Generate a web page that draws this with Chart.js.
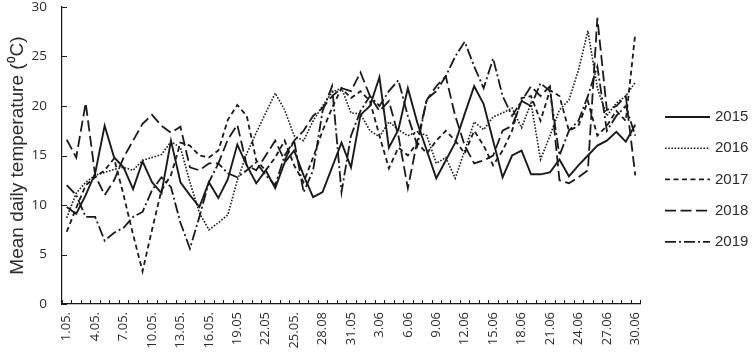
<!DOCTYPE html>
<html>
<head>
<meta charset="utf-8">
<script src="https://cdn.jsdelivr.net/npm/chart.js@4.4.0/dist/chart.umd.min.js"></script>
<style>
html, body { margin: 0; padding: 0; background: #fff; }
</style>
</head>
<body>
<canvas id="chart" width="752" height="354"></canvas>
<script>
// days 1.05. .. 30.06 (labels as printed on the original axis)
var days = [
  '1.05.', '2.05.', '3.05.', '4.05.', '5.05.', '6.05.', '7.05.', '8.05.', '9.05.', '10.05.',
  '11.05.', '12.05.', '13.05.', '14.05.', '15.05.', '16.05.', '17.05.', '18.05.', '19.05', '20.05',
  '21.05', '22.05', '23.05', '24.05', '25.05.', '26.05', '27.05', '28.08', '29.05', '30.05',
  '31.05', '1.06', '2.06', '3.06', '4.06', '5.06', '6.06', '7.06', '8.06', '9.06',
  '10.06', '11.06', '12.06', '13.06', '14.06', '15.06', '16.06', '17.06', '18.06', '19.06',
  '20.06', '21.06', '22.06', '23.06', '24.06', '25.06', '26.06', '27.06', '28.06', '29.06',
  '30.06'
];
var labelEvery = 3;   // only every third day is written under the axis

var years = ['2015', '2016', '2017', '2018', '2019'];

var t2015 = [9.8, 9.1, 11.0, 13.2, 18.0, 14.8, 13.8, 11.6, 14.4, 12.3,
  11.2, 16.5, 12.3, 11.0, 9.8, 12.3, 10.7, 12.6, 16.1, 14.0,
  12.2, 13.5, 11.7, 14.3, 15.5, 13.0, 10.8, 11.3, 13.8, 16.3,
  13.8, 19.1, 20.0, 22.9, 15.8, 17.6, 21.8, 18.3, 15.5, 12.7,
  14.5, 16.3, 19.2, 22.0, 20.2, 16.5, 12.8, 15.0, 15.5, 13.1,
  13.1, 13.3, 14.6, 12.9, 14.0, 15.0, 16.0, 16.5, 17.4, 16.4,
  18.1];
var t2016 = [8.7, 11.2, 12.3, 13.0, 13.3, 13.6, 13.8, 13.5, 14.5, 14.8,
  15.1, 16.4, 15.8, 12.3, 9.2, 7.5, 8.2, 9.0, 12.5, 15.2,
  17.3, 19.3, 21.3, 19.6, 17.0, 16.5, 18.5, 20.0, 21.4, 21.8,
  19.3, 19.2, 17.5, 16.9, 18.4, 17.6, 17.0, 17.4, 17.0, 14.2,
  14.8, 12.7, 15.5, 18.4, 17.6, 18.9, 19.3, 19.8, 17.8, 20.3,
  14.6, 17.0, 19.6, 20.6, 23.6, 27.6, 21.8, 19.0, 20.3, 21.0,
  22.4];
var t2017 = [7.3, 9.7, 12.0, 12.8, 13.5, 14.7, 11.0, 7.0, 3.3, 7.5,
  11.5, 13.0, 16.3, 16.0, 15.0, 14.8, 15.5, 18.6, 20.1, 19.0,
  14.5, 13.5, 14.8, 16.5, 14.0, 12.3, 14.8, 17.5, 19.8, 21.8,
  20.8, 21.5, 20.5, 17.0, 13.7, 15.8, 15.0, 16.3, 15.2, 16.5,
  17.5, 16.5, 15.2, 17.5, 16.0, 14.0, 15.5, 17.5, 20.8, 21.0,
  18.5, 21.6, 21.0, 17.5, 18.0, 20.5, 17.0, 18.0, 19.5, 18.5,
  27.3];
var t2018 = [16.6, 14.8, 20.3, 13.0, 11.0, 12.5, 14.8, 16.5, 18.2, 19.1,
  18.0, 17.3, 17.9, 13.8, 13.5, 14.2, 14.2, 16.6, 18.1, 14.0,
  13.5, 15.0, 16.5, 14.5, 16.5, 17.5, 19.0, 19.8, 21.0, 21.8,
  21.5, 23.4, 21.0, 19.5, 20.5, 17.0, 11.7, 16.5, 20.6, 22.0,
  23.0, 19.0, 16.0, 14.2, 14.5, 15.0, 17.5, 18.0, 20.5, 22.0,
  21.0, 22.0, 12.5, 12.2, 12.8, 13.5, 28.9, 19.6, 20.0, 21.0,
  13.0];
var t2019 = [12.0, 11.0, 8.8, 8.8, 6.4, 7.2, 7.7, 8.8, 9.3, 11.5,
  12.8, 11.8, 8.2, 5.6, 8.8, 12.3, 14.2, 13.2, 12.8, 13.5,
  14.3, 13.0, 12.0, 15.0, 16.5, 11.3, 13.5, 19.5, 22.0, 11.3,
  17.0, 19.5, 21.0, 20.0, 21.5, 22.6, 19.0, 16.0, 20.7, 21.5,
  23.0, 25.0, 26.5, 24.0, 21.8, 24.8, 21.0, 19.0, 20.5, 20.0,
  22.3, 21.5, 15.0, 17.5, 18.5, 21.0, 24.0, 17.5, 19.0, 20.0,
  17.0];

var series = [t2015, t2016, t2017, t2018, t2019];
var dashes = [[], [1.6, 1.6], [5, 3.5], [11, 4.5], [11, 3, 2, 3]];
var widths = [1.9, 1.6, 1.8, 1.8, 1.8];

var ink = '#1a1a1a';
var textInk = '#2b2b2b';

// y axis range
var yMin = 0, yMax = 30, yStep = 5;

// inward tick marks on both axes + line legend on the right
var frame = {
  id: 'frame',
  afterDraw: function (chart) {
    var ctx = chart.ctx;
    var y = chart.scales.y;
    var area = chart.chartArea;
    ctx.save();
    ctx.strokeStyle = ink;
    ctx.lineWidth = 1;
    ctx.setLineDash([]);
    ctx.beginPath();
    var w = (area.right - area.left) / days.length;
    for (var i = 0; i <= days.length; i++) {
      var px = Math.round(area.left + i * w) + 0.5;
      ctx.moveTo(px, area.bottom);
      ctx.lineTo(px, area.bottom - 4);
    }
    for (var v = yMin; v <= yMax; v += yStep) {
      var py = Math.round(y.getPixelForValue(v)) + 0.5;
      ctx.moveTo(area.left, py);
      ctx.lineTo(area.left + 5, py);
    }
    ctx.stroke();

    // legend
    ctx.font = '15px "Liberation Sans", Arial, sans-serif';
    ctx.fillStyle = textInk;
    ctx.textBaseline = 'middle';
    chart.data.datasets.forEach(function (ds, k) {
      var ly = 117 + k * 31.2;
      ctx.beginPath();
      ctx.lineWidth = ds.borderWidth;
      ctx.setLineDash(ds.borderDash);
      ctx.moveTo(665, ly);
      ctx.lineTo(710, ly);
      ctx.stroke();
      ctx.setLineDash([]);
      ctx.fillText(ds.label, 715, ly);
    });
    ctx.restore();
  }
};

var chart = new Chart(document.getElementById('chart'), {
  type: 'line',
  data: {
    labels: days,
    datasets: years.map(function (yr, k) {
      return {
        label: yr,
        data: series[k],
        borderColor: ink,
        borderWidth: widths[k],
        borderDash: dashes[k],
        pointRadius: 0,
        fill: false,
        tension: 0
      };
    })
  },
  options: {
    responsive: false,
    animation: false,
    layout: { padding: { left: 6, right: 112, top: 7, bottom: 0 } },
    plugins: {
      legend: { display: false },
      tooltip: { enabled: false }
    },
    scales: {
      x: {
        offset: true,
        grid: { display: false, drawTicks: false },
        border: { display: true, color: ink, width: 1.2 },
        ticks: {
          autoSkip: false,
          maxRotation: 90,
          minRotation: 90,
          padding: 8,
          color: textInk,
          font: { family: '"Open Sans", "Noto Sans", sans-serif', size: 13 },
          callback: function (val, idx) {
            return idx % labelEvery === 0 ? days[idx] : '';
          }
        },
        afterFit: function (scale) {
          scale.height = 50;
          scale.paddingLeft = 0;
          scale.paddingRight = 0;
        }
      },
      y: {
        min: yMin,
        max: yMax,
        grid: { display: false, drawTicks: false },
        border: { display: true, color: ink, width: 1.2 },
        ticks: {
          stepSize: yStep,
          padding: 15,
          color: textInk,
          font: { family: '"Open Sans", "Noto Sans", sans-serif', size: 13.5 }
        },
        title: {
          display: true,
          text: 'Mean daily temperature (\u2070C)',
          color: textInk,
          padding: { top: 0, bottom: 2 },
          font: { family: '"Liberation Sans", Arial, sans-serif', size: 19 }
        },
        afterFit: function (scale) {
          scale.width = 56;
          scale.paddingTop = 0;
          scale.paddingBottom = 0;
        }
      }
    }
  },
  plugins: [frame]
});
</script>
</body>
</html>
